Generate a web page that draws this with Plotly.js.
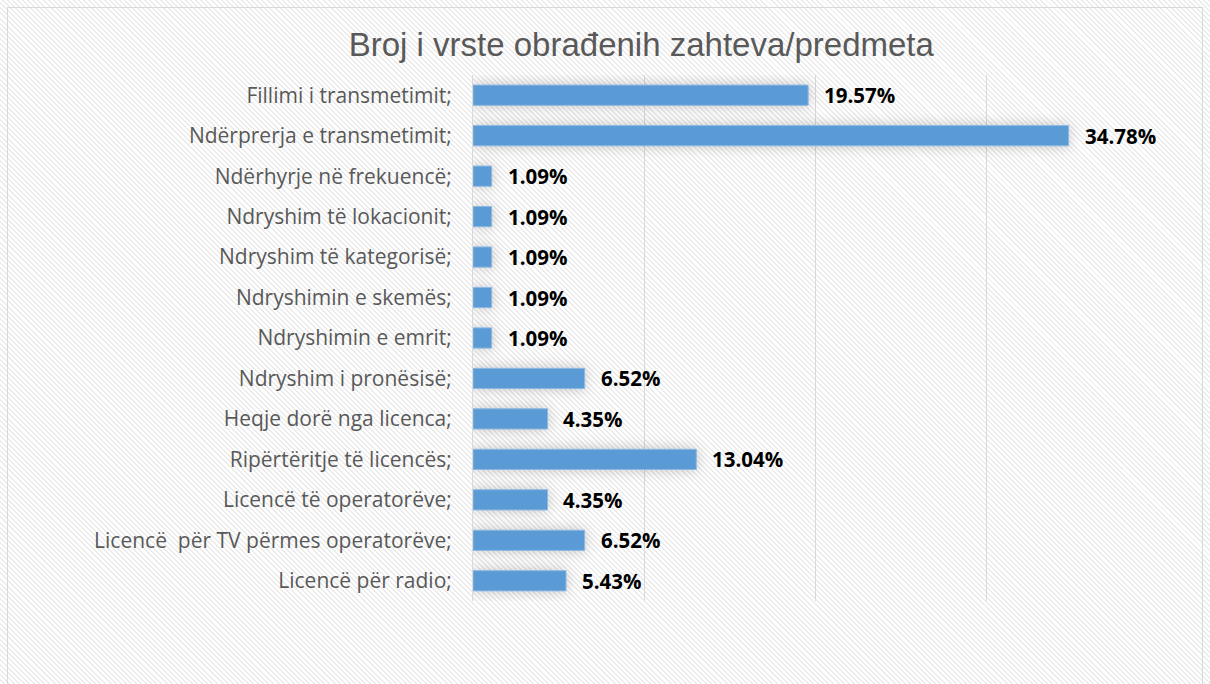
<!DOCTYPE html>
<html>
<head>
<meta charset="utf-8">
<script src="https://cdn.plot.ly/plotly-3.0.1.min.js"></script>
<style>
  html, body { margin: 0; padding: 0; width: 1210px; height: 684px; overflow: hidden; }
  body { background: repeating-linear-gradient(45deg, #ffffff 0px, #ffffff 2.2px, #ebebeb 2.2px, #ebebeb 3.6px); }
  #frame { position: absolute; left: 7px; top: 7px; width: 1196px; height: 700px; border: 1px solid #d9d9d9; box-sizing: border-box; }
  #chart { position: absolute; left: 0; top: 0; width: 1210px; height: 684px; }
  #chart .bars path { filter: drop-shadow(0px 0px 7px rgba(0,0,0,0.22)); }
</style>
</head>
<body>
<div id="frame"></div>
<div id="chart"></div>
<script>
const categories = [
  "Fillimi i transmetimit;",
  "Ndërprerja e transmetimit;",
  "Ndërhyrje në frekuencë;",
  "Ndryshim të lokacionit;",
  "Ndryshim të kategorisë;",
  "Ndryshimin e skemës;",
  "Ndryshimin e emrit;",
  "Ndryshim i pronësisë;",
  "Heqje dorë nga licenca;",
  "Ripërtëritje të licencës;",
  "Licencë të operatorëve;",
  "Licencë  për TV përmes operatorëve;",
  "Licencë për radio;"
];
const values = [19.57, 34.78, 1.09, 1.09, 1.09, 1.09, 1.09, 6.52, 4.35, 13.04, 4.35, 6.52, 5.43];
const valueLabels = ["19.57%", "34.78%", "1.09%", "1.09%", "1.09%", "1.09%", "1.09%", "6.52%", "4.35%", "13.04%", "4.35%", "6.52%", "5.43%"];
const chartTitle = "Broj i vrste obrađenih zahteva/predmeta";

const trace = {
  type: "bar",
  orientation: "h",
  y: categories,
  x: values,
  marker: { color: "#5b9bd5", line: { color: "#8db8e2", width: 1 } },
  hoverinfo: "none"
};

const annotations = categories.map((c, i) => ({
  x: values[i], y: c, xref: "x", yref: "y",
  text: valueLabels[i], showarrow: false,
  xanchor: "left", yanchor: "middle", xshift: 14,
  font: { family: "Open Sans, sans-serif", size: 20.5, color: "#000000", weight: "bold" }
}));

const layout = {
  width: 1210, height: 684,
  paper_bgcolor: "rgba(0,0,0,0)",
  plot_bgcolor: "rgba(0,0,0,0)",
  margin: { l: 473, r: 52, t: 75, b: 83 },
  title: {
    text: chartTitle,
    font: { family: "Liberation Sans, Arial, sans-serif", size: 33, color: "#595959" },
    x: 0.53, xanchor: "center", y: 0.935, yanchor: "middle"
  },
  bargap: 0.5,
  showlegend: false,
  xaxis: {
    range: [0, 40], dtick: 10, tick0: 0,
    showgrid: true, gridcolor: "#d9d9d9", gridwidth: 1,
    zeroline: false, showticklabels: false, ticks: "", fixedrange: true
  },
  yaxis: {
    autorange: "reversed",
    showline: true, linecolor: "#d9d9d9", linewidth: 1,
    ticks: "outside", ticklen: 16, tickcolor: "rgba(0,0,0,0)",
    tickfont: { family: "Open Sans, sans-serif", size: 21, color: "#595959" },
    showgrid: false, fixedrange: true
  },
  annotations: annotations
};

Plotly.newPlot("chart", [trace], layout, { displayModeBar: false, staticPlot: true });
</script>
</body>
</html>
